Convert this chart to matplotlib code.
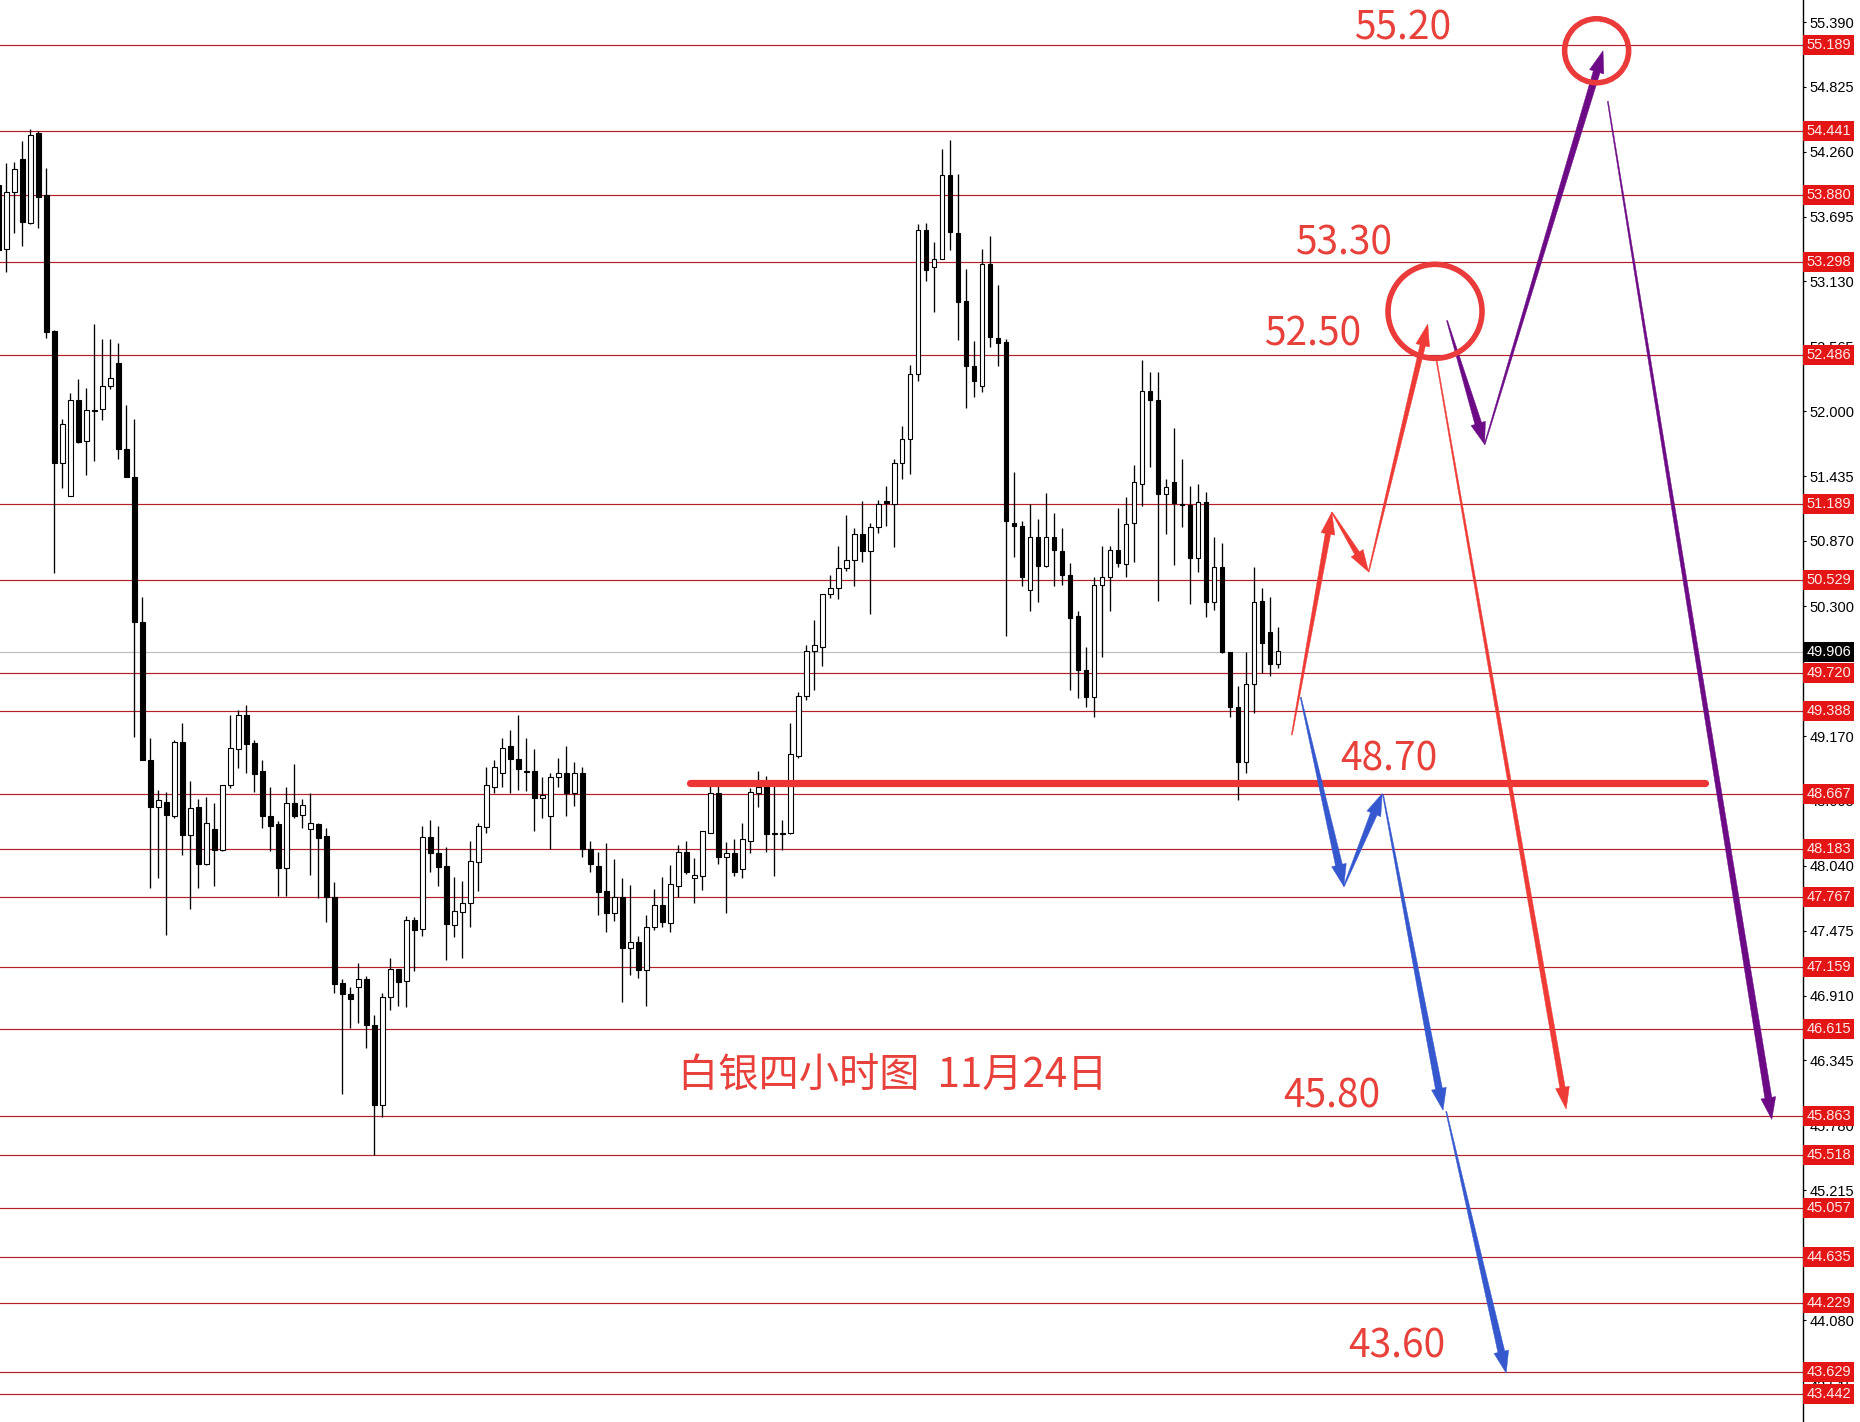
import matplotlib
matplotlib.use("Agg")
import matplotlib.pyplot as plt
from matplotlib.patches import Polygon, Circle
from matplotlib.transforms import IdentityTransform
import numpy as np

# ---------------- data (4-hour silver candles) ----------------
opens = [53.97, 53.41, 53.91, 54.20, 53.64, 54.42, 53.88, 52.70, 51.55, 51.26, 52.10, 51.74, 52.01, 52.02, 52.22, 52.42,
         51.67, 51.43, 50.16, 48.96, 48.55, 48.60, 48.47, 49.12, 48.31, 48.55, 48.06, 48.36, 48.18, 48.74, 49.06, 49.35,
         49.11, 48.87, 48.47, 48.40, 48.02, 48.59, 48.48, 48.36, 48.40, 48.30, 47.77, 47.02, 46.92, 46.98, 47.05, 46.65,
         45.96, 46.90, 47.14, 47.04, 47.57, 47.49, 48.29, 48.15, 48.04, 47.52, 47.64, 47.72, 48.07, 48.38, 48.73, 48.85,
         49.08, 48.97, 48.87, 48.87, 48.63, 48.47, 48.81, 48.85, 48.67, 48.85, 48.19, 48.04, 47.82, 47.63, 47.77, 47.32,
         47.38, 47.13, 47.51, 47.70, 47.54, 47.86, 48.16, 47.93, 47.95, 48.33, 48.67, 48.12, 48.15, 48.01, 48.26, 48.67,
         48.74, 48.33, 48.33, 48.33, 49.00, 49.52, 49.91, 49.95, 50.41, 50.46, 50.63, 50.70, 50.93, 50.78, 50.99, 51.22,
         51.19, 51.55, 51.76, 52.32, 53.58, 53.26, 53.33, 54.06, 53.55, 52.96, 52.39, 52.22, 53.28, 52.64, 52.60, 51.03,
         51.00, 50.44, 50.90, 50.65, 50.90, 50.78, 50.57, 50.22, 49.75, 49.51, 50.49, 50.56, 50.79, 50.67, 51.03, 51.37,
         52.18, 52.10, 51.28, 51.38, 51.19, 51.18, 50.72, 51.21, 50.34, 50.64, 49.90, 49.42, 48.94, 49.62, 50.35, 50.08,
         49.80]
highs = [54.10, 54.16, 54.17, 54.35, 54.46, 54.44, 54.12, 52.71, 51.93, 52.16, 52.28, 52.20, 52.76, 52.63, 52.63, 52.59,
         52.05, 51.93, 50.38, 49.15, 48.70, 48.68, 49.14, 49.28, 48.78, 48.62, 48.64, 48.59, 48.74, 49.35, 49.40, 49.44,
         49.14, 48.96, 48.73, 48.43, 48.73, 48.93, 48.62, 48.67, 48.41, 48.37, 47.90, 47.05, 46.98, 47.19, 47.08, 46.74,
         46.93, 47.24, 47.14, 47.60, 47.59, 48.39, 48.44, 48.39, 48.20, 47.94, 47.91, 48.26, 48.41, 48.90, 48.96, 49.15,
         49.22, 49.35, 49.15, 49.06, 48.81, 48.85, 48.98, 49.08, 48.94, 48.90, 48.26, 48.16, 48.24, 48.10, 47.93, 47.87,
         47.43, 47.61, 47.84, 47.94, 48.05, 48.22, 48.26, 48.11, 48.34, 48.74, 48.74, 48.25, 48.27, 48.41, 48.72, 48.87,
         48.82, 48.74, 48.44, 49.28, 49.55, 49.96, 50.18, 50.41, 50.57, 50.83, 51.10, 50.98, 51.22, 51.03, 51.23, 51.35,
         51.58, 51.87, 52.40, 53.63, 53.64, 53.47, 54.28, 54.36, 54.07, 53.24, 52.61, 53.41, 53.53, 53.10, 52.63, 51.47,
         51.04, 51.19, 51.06, 51.29, 51.11, 50.98, 50.68, 50.26, 49.95, 50.56, 50.83, 50.83, 51.16, 51.25, 51.53, 52.45,
         52.34, 52.34, 51.41, 51.85, 51.58, 51.35, 51.37, 51.30, 50.90, 50.85, 49.90, 49.61, 49.90, 50.64, 50.46, 50.38,
         50.12]
lows = [52.91, 53.21, 53.55, 53.44, 53.63, 53.60, 52.64, 50.59, 51.33, 51.26, 51.72, 51.44, 51.57, 51.92, 52.19, 51.58,
        51.43, 49.16, 48.96, 47.85, 47.93, 47.44, 48.46, 48.13, 47.66, 47.85, 48.05, 47.86, 48.17, 48.72, 48.89, 48.85,
        48.68, 48.37, 48.17, 47.78, 47.78, 48.46, 48.37, 47.96, 47.76, 47.55, 46.93, 46.05, 46.63, 46.67, 46.45, 45.52,
        45.85, 46.78, 46.82, 46.81, 47.12, 47.43, 47.99, 47.86, 47.22, 47.42, 47.24, 47.51, 47.82, 48.33, 48.67, 48.73,
        48.67, 48.70, 48.69, 48.34, 48.46, 48.19, 48.73, 48.47, 48.56, 48.12, 47.99, 47.61, 47.46, 47.56, 46.85, 47.09,
        47.06, 46.82, 47.48, 47.51, 47.46, 47.77, 47.97, 47.72, 47.83, 48.33, 48.06, 47.63, 47.95, 47.93, 48.15, 48.55,
        48.16, 47.95, 48.18, 48.32, 48.98, 49.48, 49.57, 49.78, 50.37, 50.36, 50.61, 50.48, 50.69, 50.23, 50.94, 51.00,
        50.82, 51.41, 51.45, 52.26, 53.13, 52.86, 53.33, 53.40, 52.62, 52.03, 52.12, 52.17, 52.56, 52.39, 50.04, 50.73,
        50.48, 50.26, 50.34, 50.64, 50.48, 50.49, 49.57, 49.50, 49.42, 49.34, 49.86, 50.26, 50.64, 50.56, 50.69, 51.17,
        51.51, 50.35, 50.93, 50.66, 50.99, 50.32, 50.60, 50.21, 50.27, 49.89, 49.34, 48.61, 48.85, 49.37, 49.72, 49.69,
        49.76]
closes = [53.40, 53.91, 54.11, 53.65, 54.41, 53.87, 52.69, 51.55, 51.89, 52.10, 51.73, 52.01, 52.00, 52.22, 52.29, 51.67,
          51.43, 50.16, 48.96, 48.55, 48.61, 48.48, 49.12, 48.31, 48.54, 48.06, 48.41, 48.18, 48.74, 49.07, 49.35, 49.10,
          48.84, 48.47, 48.39, 48.02, 48.59, 48.47, 48.57, 48.41, 48.28, 47.77, 47.01, 46.92, 46.88, 47.05, 46.65, 45.96,
          46.90, 47.14, 47.03, 47.57, 47.48, 48.29, 48.15, 48.03, 47.53, 47.65, 47.72, 48.08, 48.39, 48.74, 48.90, 49.07,
          48.97, 48.88, 48.86, 48.63, 48.66, 48.81, 48.85, 48.67, 48.85, 48.19, 48.06, 47.81, 47.63, 47.77, 47.32, 47.38,
          47.13, 47.51, 47.70, 47.55, 47.88, 48.16, 47.99, 47.96, 48.34, 48.67, 48.12, 48.15, 47.99, 48.27, 48.68, 48.73,
          48.32, 48.32, 48.32, 49.01, 49.52, 49.91, 49.96, 50.41, 50.46, 50.63, 50.70, 50.93, 50.78, 50.99, 51.19, 51.20,
          51.55, 51.76, 52.32, 53.58, 53.23, 53.33, 54.06, 53.56, 52.95, 52.39, 52.26, 53.28, 52.65, 52.59, 51.04, 51.00,
          50.56, 50.90, 50.65, 50.90, 50.79, 50.57, 50.20, 49.75, 49.51, 50.49, 50.56, 50.79, 50.68, 51.02, 51.38, 52.18,
          52.10, 51.28, 51.34, 51.20, 51.18, 50.72, 51.21, 50.34, 50.64, 49.90, 49.42, 48.94, 49.62, 50.34, 49.98, 49.80,
          49.91]
first_bar = -1

# horizontal support / resistance levels (red) and current price (grey)
levels = [55.189, 54.441, 53.880, 53.298, 52.486, 51.189, 50.529, 49.720, 49.388, 48.667, 48.183,
          47.767, 47.159, 46.615, 45.863, 45.518, 45.057, 44.635, 44.229, 43.629, 43.442]
current_price = 49.906
axis_ticks = [55.390, 54.825, 54.260, 53.695, 53.130, 52.565, 52.000, 51.435, 50.870, 50.300, 49.170,
              48.605, 48.040, 47.475, 46.910, 46.345, 45.780, 45.215, 44.080, 43.515]

# key level drawn as thick red line
key_level = 48.76
key_level_span = (85.5, 212.3)

# forecast arrows: (x0, price0, x1, price1)
red_arrows = [(160.7, 49.18, 165.7, 51.12), (165.7, 51.12, 170.3, 50.60),
              (170.3, 50.60, 177.7, 52.76), (178.7, 52.48, 195.0, 45.92)]
purple_arrows = [(180.1, 52.79, 184.8, 51.71), (184.8, 51.71, 199.6, 55.14),
                 (200.2, 54.70, 220.7, 45.83)]
blue_arrows = [(161.8, 49.51, 167.2, 47.86), (167.2, 47.86, 172.0, 48.67),
               (172.1, 48.66, 179.6, 45.91), (180.0, 45.90, 187.5, 43.62)]
circles = [(178.6, 52.87, 47), (198.8, 55.14, 32)]

# target labels: (text, x, price)
target_labels = [("55.20", 174.6, 55.33), ("53.30", 167.2, 53.46), ("52.50", 163.3, 52.67),
                 ("48.70", 172.8, 48.97), ("45.80", 165.7, 46.03), ("43.60", 173.8, 43.85)]
title_text = "白银四小时图  11月24日"
title_pos = (110.8, 46.22)

# ---------------- figure ----------------
W, H = 1860, 1422
fig = plt.figure(figsize=(W / 100, H / 100), dpi=100)
fig.patch.set_facecolor("white")
ax = fig.add_axes([0, 0, 1803 / W, 1])
ax.set_xlim(-0.79, 224.6)
ax.set_ylim(43.195, 55.582)
ax.set_facecolor("white")

for s in ["top", "left", "bottom"]:
    ax.spines[s].set_visible(False)
ax.spines["right"].set_color("black")
ax.spines["right"].set_linewidth(1.0)
ax.set_xticks([])
ax.yaxis.tick_right()
ax.set_yticks(axis_ticks)
ax.set_yticklabels([f"{v:.3f}" for v in axis_ticks], fontfamily="Liberation Sans")
ax.tick_params(axis="y", direction="out", length=2.5, width=0.8, pad=2.5, labelsize=10.5,
               colors="black")

# levels
for lv in levels:
    ax.axhline(lv, color="#b51f28", lw=0.85, zorder=1)
ax.axhline(current_price, color="#bdbdbd", lw=0.85, zorder=1)

# candles
n = len(opens)
xs = np.arange(first_bar, first_bar + n)
o = np.array(opens); c = np.array(closes); hi = np.array(highs); lo = np.array(lows)
ax.vlines(xs, lo, hi, color="black", lw=0.95, zorder=3)
bull = c >= o
bw = 0.56
body_h = np.maximum(np.abs(c - o), 0.008)
body_b = np.minimum(o, c)
ax.bar(xs[bull], body_h[bull], bottom=body_b[bull], width=bw, color="white",
       edgecolor="black", linewidth=0.8, zorder=4)
ax.bar(xs[~bull], body_h[~bull], bottom=body_b[~bull], width=bw, color="black",
       edgecolor="black", linewidth=0.8, zorder=4)

# right-axis price boxes
ytr = ax.get_yaxis_transform()
for lv in levels:
    ax.text(1.0018, lv, f"{lv:.3f}", transform=ytr, ha="left", va="center", fontsize=10.5,
            fontfamily="Liberation Sans", color="#ffe8e8", zorder=10, clip_on=False,
            bbox=dict(boxstyle="square,pad=0.2", fc="#e31515", ec="none"))
ax.text(1.0018, current_price, f"{current_price:.3f}", transform=ytr, ha="left", va="center",
        fontsize=10.5, fontfamily="Liberation Sans", color="white", zorder=10, clip_on=False,
        bbox=dict(boxstyle="square,pad=0.2", fc="black", ec="none"))

# thick key level line
ax.plot(key_level_span, [key_level, key_level], color="#ee3535", lw=5.2,
        solid_capstyle="round", zorder=5)

fig.canvas.draw()
T = ax.transData


def taper_arrow(seg, color, w0=1.0, w1=6.5, hl=22, hw=15):
    a = T.transform((seg[0], seg[1]))
    b = T.transform((seg[2], seg[3]))
    d = b - a
    L = np.hypot(*d)
    u = d / L
    nrm = np.array([-u[1], u[0]])
    base = b - u * hl
    pts = [a + nrm * w0 / 2, base + nrm * w1 / 2, base + nrm * hw / 2, b,
           base - nrm * hw / 2, base - nrm * w1 / 2, a - nrm * w0 / 2]
    ax.add_patch(Polygon(pts, closed=True, transform=IdentityTransform(), facecolor=color,
                         edgecolor=color, lw=0.3, zorder=7))


for seg in red_arrows:
    taper_arrow(seg, "#ef3b36", w1=5.5, hl=22, hw=14)
for seg in purple_arrows:
    taper_arrow(seg, "#6d0b86", w1=7, hl=22, hw=15)
for seg in blue_arrows:
    taper_arrow(seg, "#3658cf", w1=7, hl=22, hw=15)

for cx, cy, r in circles:
    cc = T.transform((cx, cy))
    ax.add_patch(Circle(cc, r, transform=IdentityTransform(), fill=False, edgecolor="#ea3a3a",
                        lw=4.0, zorder=7))

for txt, x, y in target_labels:
    ax.text(x, y, txt, ha="center", va="center", fontsize=28, color="#e8413b",
            fontfamily=["Noto Sans CJK SC", "DejaVu Sans"], zorder=8)

ax.text(title_pos[0], title_pos[1], title_text, ha="center", va="center", fontsize=29,
        color="#e8413b", fontfamily=["Noto Sans CJK SC", "DejaVu Sans"], zorder=8)

fig.savefig("out.png", dpi=100, facecolor="white")
